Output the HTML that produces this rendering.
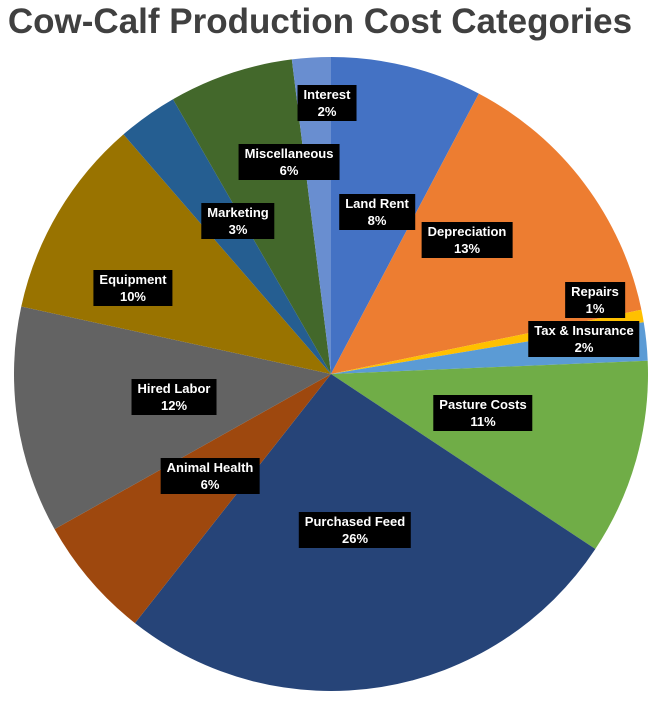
<!DOCTYPE html>
<html><head><meta charset="utf-8"><style>
body{margin:0;background:#fff;width:664px;height:705px;overflow:hidden;font-family:"Liberation Sans",Arial,sans-serif}
.t{position:absolute;top:0;left:-12px;width:664px;text-align:center;font-weight:bold;font-size:35px;color:#404040;line-height:44px}
.l{position:absolute;background:#000;color:#fff;font-weight:bold;font-size:13px;line-height:17px;text-align:center;padding:1px 6px;transform:translate(-50%,-50%);white-space:nowrap}
</style></head><body>
<svg id="s" width="664" height="705" style="position:absolute;left:0;top:0"></svg>
<div class="t">Cow-Calf Production Cost Categories</div>
<script>
var cx=331,cy=374,r=317;
var d=[[0,27.8,"#4472C4"],[27.8,78.3,"#ED7D31"],[78.3,80.6,"#FFC000"],[80.6,87.6,"#5B9BD5"],[87.6,123.5,"#70AD47"],[123.5,218.2,"#264478"],[218.2,240.7,"#9E480E"],[240.7,282.3,"#636363"],[282.3,319.1,"#997300"],[319.1,330.1,"#255E91"],[330.1,352.9,"#43682B"],[352.9,360,"#698ED0"]];
function p(a){a=a*Math.PI/180;return [cx+r*Math.sin(a),cy-r*Math.cos(a)];}
var h="";d.forEach(function(s){var a=p(s[0]),b=p(s[1]);h+='<path d="M'+cx+','+cy+'L'+a[0]+','+a[1]+'A'+r+','+r+' 0 '+(s[1]-s[0]>180?1:0)+' 1 '+b[0]+','+b[1]+'Z" fill="'+s[2]+'"/>';});
document.getElementById("s").innerHTML=h;
</script>
<div class="l" style="left:327px;top:103px">Interest<br>2%</div>
<div class="l" style="left:289px;top:162px">Miscellaneous<br>6%</div>
<div class="l" style="left:377px;top:212px">Land Rent<br>8%</div>
<div class="l" style="left:238px;top:221px">Marketing<br>3%</div>
<div class="l" style="left:467px;top:240px">Depreciation<br>13%</div>
<div class="l" style="left:133px;top:288px">Equipment<br>10%</div>
<div class="l" style="left:595px;top:300px">Repairs<br>1%</div>
<div class="l" style="left:584px;top:339px">Tax &amp; Insurance<br>2%</div>
<div class="l" style="left:174px;top:397px">Hired Labor<br>12%</div>
<div class="l" style="left:483px;top:413px">Pasture Costs<br>11%</div>
<div class="l" style="left:210px;top:476px">Animal Health<br>6%</div>
<div class="l" style="left:355px;top:530px">Purchased Feed<br>26%</div>
</body></html>
